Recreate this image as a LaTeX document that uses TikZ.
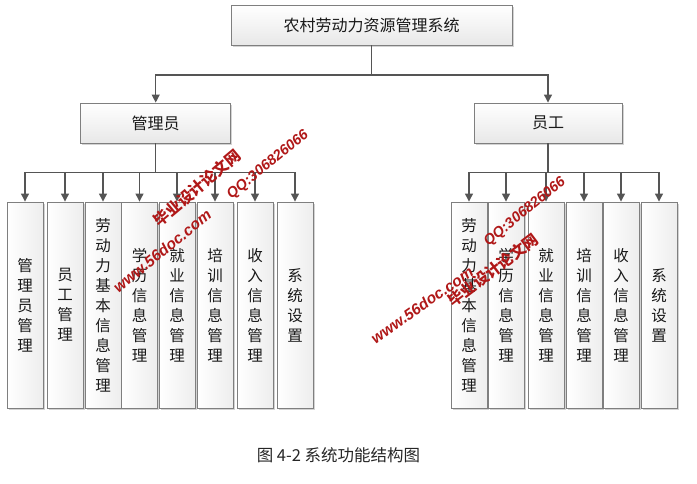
\documentclass[tikz,border=0pt]{standalone}
\usepackage{fontspec}
\newfontfamily\cjk{Noto Sans CJK SC}
\newfontfamily\wmlat{Liberation Sans}
\usetikzlibrary{arrows.meta,shadows}
\definecolor{lncol}{HTML}{555555}
\definecolor{bdcol}{HTML}{7F7F7F}
\definecolor{wmred}{HTML}{B01818}
\begin{document}
\begin{tikzpicture}[x=1pt,y=-1pt,
  conn/.style={draw=lncol,line width=1.2pt},
  arr/.style={conn,-{Triangle[width=8pt,length=8pt]}},
  hbox/.style={draw=bdcol,line width=0.9pt,top color=white,bottom color=gray!18,
    drop shadow={shadow xshift=1.5pt,shadow yshift=-1.5pt,opacity=0.35},
    inner sep=0pt,font=\cjk\fontsize{16}{18}\selectfont,text=black!90},
  leaf/.style={draw=bdcol,line width=0.9pt,left color=white,right color=gray!14,
    drop shadow={shadow xshift=1.5pt,shadow yshift=-1.5pt,opacity=0.35},
    minimum width=36pt,minimum height=206pt,inner sep=0pt,align=center,
    font=\cjk\fontsize{15.5}{20}\selectfont,text=black!90},
  wm/.style={text=wmred,inner sep=0pt}]
\useasboundingbox (0,0) rectangle (697,483);
% top levels
\node[hbox,minimum width=281pt,minimum height=40pt] (top) at (371.5,25) {农村劳动力资源管理系统};
\node[hbox,minimum width=150pt,minimum height=40pt] (admin) at (155.7,123) {管理员};
\node[hbox,minimum width=148pt,minimum height=40pt] (staff) at (548,123) {员工};
% left leaves
\node[leaf] (a1) at (25,305) {管\\理\\员\\管\\理};
\node[leaf] (a2) at (65,305) {员\\工\\管\\理};
\node[leaf] (a3) at (103,305) {劳\\动\\力\\基\\本\\信\\息\\管\\理};
\node[leaf] (a4) at (139.5,305) {学\\历\\信\\息\\管\\理};
\node[leaf] (a5) at (177,305) {就\\业\\信\\息\\管\\理};
\node[leaf] (a6) at (215,305) {培\\训\\信\\息\\管\\理};
\node[leaf] (a7) at (255,305) {收\\入\\信\\息\\管\\理};
\node[leaf] (a8) at (295,305) {系\\统\\设\\置};
% right leaves
\node[leaf] (b1) at (469,305) {劳\\动\\力\\基\\本\\信\\息\\管\\理};
\node[leaf] (b2) at (506,305) {学\\历\\信\\息\\管\\理};
\node[leaf] (b3) at (546,305) {就\\业\\信\\息\\管\\理};
\node[leaf] (b4) at (584,305) {培\\训\\信\\息\\管\\理};
\node[leaf] (b5) at (621,305) {收\\入\\信\\息\\管\\理};
\node[leaf] (b6) at (659,305) {系\\统\\设\\置};
% junctions
\coordinate (jt) at (371.5,75);
\coordinate (ja) at (155.7,172.7);
\coordinate (jb) at (548,172.7);
% connectors
\draw[conn] (top.south) -- (jt);
\draw[arr] (jt) -| (admin.north);
\draw[arr] (jt) -| (staff.north);
\draw[conn] (admin.south) -- (ja);
\foreach \n in {a1,a2,a3,a4,a5,a6,a7,a8} {\draw[arr] (ja) -| (\n.north);}
\draw[conn] (staff.south) -- (jb);
\foreach \n in {b1,b2,b3,b4,b5,b6} {\draw[arr] (jb) -| (\n.north);}
% caption
\node[font=\cjk\fontsize{16.5}{18}\selectfont,text=black!85] (cap) at (338.5,455) {图 4-2 系统功能结构图};
% watermarks
\node[wm,rotate=40,font=\cjk\bfseries\fontsize{15.5}{15.5}\selectfont] (w1) at (197,188) {毕业设计论文网};
\node[wm,rotate=39,font=\wmlat\bfseries\itshape\fontsize{15.5}{15.5}\selectfont] (w2) at (162,251) {www.56doc.com};
\node[wm,rotate=39,font=\wmlat\bfseries\itshape\fontsize{14.5}{14.5}\selectfont] (w3) at (268,165) {QQ:306826066};
\node[wm,rotate=37,font=\cjk\bfseries\fontsize{15.5}{15.5}\selectfont] (w4) at (493,270) {毕业设计论文网};
\node[wm,rotate=35,font=\wmlat\bfseries\itshape\fontsize{15.5}{15.5}\selectfont] (w5) at (422,305) {www.56doc.com};
\node[wm,rotate=39,font=\wmlat\bfseries\itshape\fontsize{14.5}{14.5}\selectfont] (w6) at (525,212) {QQ:306826066};
\end{tikzpicture}
\end{document}
